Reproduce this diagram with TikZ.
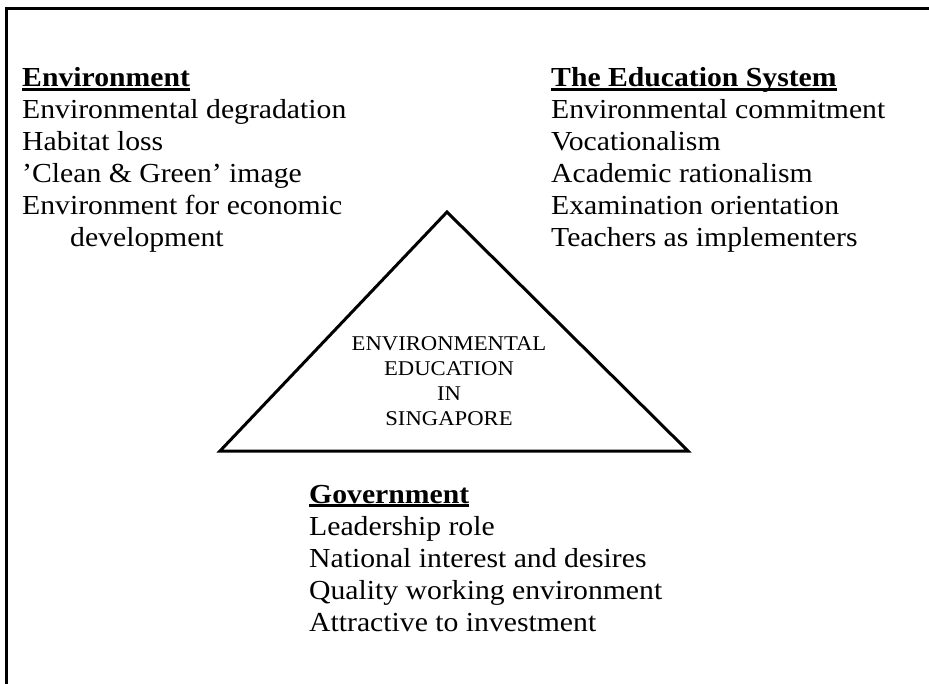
\documentclass[tikz,border=0pt]{standalone}
\usepackage{fontspec}
\setmainfont{Liberation Serif}[FakeStretch=1.08]
\usetikzlibrary{positioning}
\newcommand{\ulhead}[1]{\sbox0{\bfseries #1}\rlap{\rule[-4pt]{\wd0}{2.6pt}}\usebox0}

\begin{document}
\begin{tikzpicture}[x=1pt,y=-1pt,
         frame/.style = {line width=3pt},
         triangle/.style = {line width=3pt, line join=miter},
         block/.style = {align=left, inner sep=0pt, anchor=base west,
            font=\fontsize{27.5}{32}\selectfont},
         core/.style = {align=center, inner sep=0pt,
            font=\fontsize{21}{25}\selectfont}
]
   \useasboundingbox (0,0) rectangle (929,684);

   % frame, cut at the right and at the bottom
   \coordinate (f0) at (6.5,690);
   \coordinate (f1) at (6.5,8.5);
   \coordinate (f2) at (935,8.5);
   \draw[frame] (f0) -- (f1) -- (f2);

   % the triangle
   \coordinate (apex) at (447,212);
   \coordinate (left) at (220,451);
   \coordinate (right) at (688,451);
   \draw[triangle] (apex) -- (left) -- (right) -- cycle;

   % base anchor = baseline of the last line
   \node[core, anchor=base] (eeis) at (449,425)
      {ENVIRONMENTAL\\EDUCATION\\IN\\SINGAPORE};

   % the three corners
   \node[block] (env) at (22,247) {\ulhead{Environment}\\
      Environmental degradation\\
      Habitat loss\\
      'Clean \& Green' image\\
      Environment for economic\\
      \hspace*{48pt}development};
   \node[block] (edu) at (551,247) {\ulhead{The Education System}\\
      Environmental commitment\\
      Vocationalism\\
      Academic rationalism\\
      Examination orientation\\
      Teachers as implementers};
   \node[block] (gov) at (309,631) {\ulhead{Government}\\
      Leadership role\\
      National interest and desires\\
      Quality working environment\\
      Attractive to investment};
\end{tikzpicture}
\end{document}
